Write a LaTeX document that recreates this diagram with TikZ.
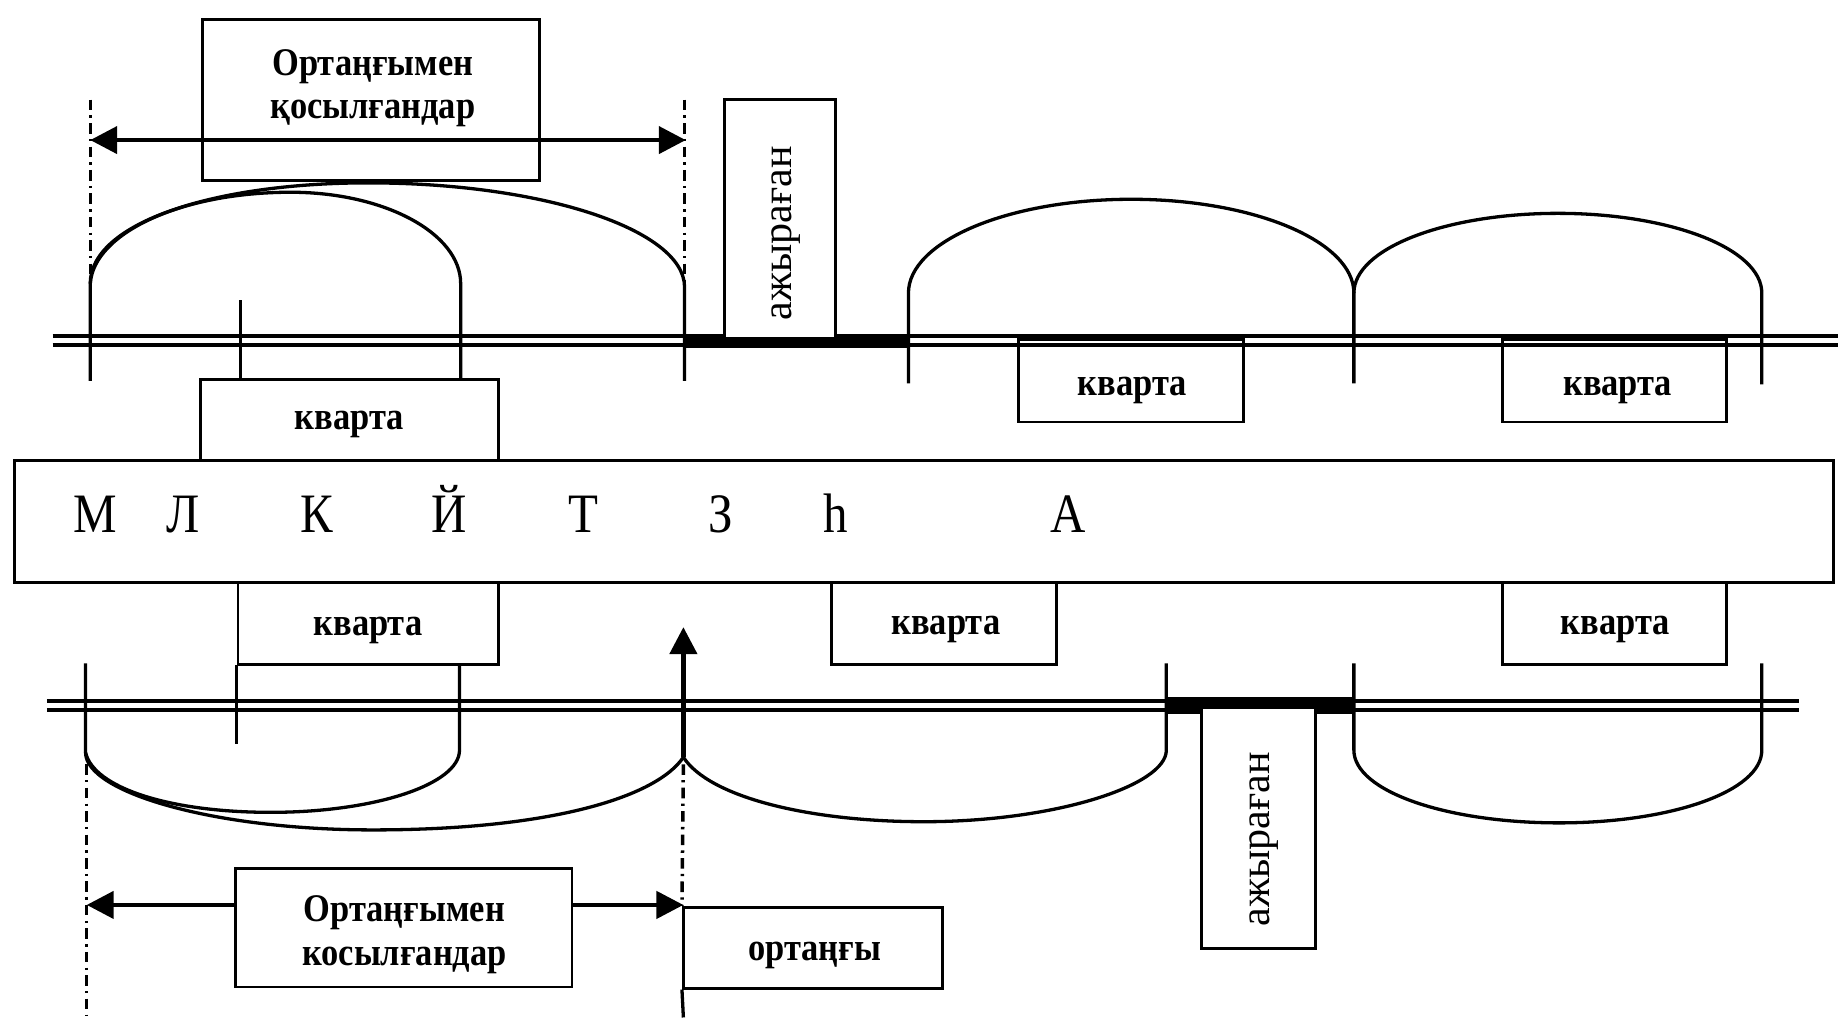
\documentclass[tikz,border=0pt]{standalone}
\usepackage{fontspec}
\setmainfont{Liberation Serif}[FakeStretch=0.88]
\newfontfamily\plainfont{Liberation Serif}
\usetikzlibrary{arrows.meta,fit}
\begin{document}
\begin{tikzpicture}[x=0.1mm,y=-0.1mm, line width=0.7pt,
  box/.style={draw, line width=0.7pt, inner sep=0pt},
  lbl/.style={font=\fontsize{9.5}{11}\selectfont\bfseries, inner sep=0pt},
  big/.style={font=\fontsize{13.5}{15}\selectfont, inner sep=0pt, anchor=base},
  vert/.style={font=\plainfont\fontsize{10.2}{12}\selectfont, rotate=90, inner sep=0pt},
  rail/.style={line width=1pt},
  arcline/.style={line width=0.8pt},
  dashdot/.style={line width=0.85pt, dash pattern=on 0.9mm off 0.45mm on 0.2mm off 0.45mm},
  tip/.style={-{Triangle[length=2.3mm,width=2.3mm]}, line width=1.1pt},
  dbltip/.style={{Triangle[length=2.3mm,width=2.3mm]}-{Triangle[length=2.3mm,width=2.3mm]}, line width=1.1pt},
]
\useasboundingbox (0,0) rectangle (1568,868);

% rails
\draw[rail] (45,287) -- (1568,287);
\draw[rail] (45,294) -- (1568,294);
\fill (583,285) rectangle (775,297);
\draw[rail] (40,598) -- (1535,598);
\draw[rail] (40,606) -- (1535,606);
\fill (995,595) rectangle (1155,609);

% boxes
\node[box, fit={(173,17)(460,154)}] (topjoin) {};
\node[box, fill=white, fit={(618,85)(713,289)}] (ajyr1) {};
\node[box, fit={(171,324)(425,393)}] (kv1) {};
\node[box, fit={(869,290)(1061,360)}] (kv2) {};
\node[box, fit={(1282,290)(1473,360)}] (kv3) {};
\node[box, fit={(12,393)(1564,497)}] (mid) {};
\node[box, fit={(203,497)(425,567)}] (kv4) {};
\node[box, fit={(709,497)(901,567)}] (kv5) {};
\node[box, fit={(1282,497)(1473,567)}] (kv6) {};
\node[box, fill=white, fit={(1025,604)(1122,809)}] (ajyr2) {};
\node[box, fit={(201,741)(488,842)}] (botjoin) {};
\node[box, fit={(583,774)(804,843)}] (ortangy) {};

% texts
\node[lbl] (t1a) at (318,57) {Ортаңғымен};
\node[lbl] (t1b) at (318,97) {қосылғандар};
\node[lbl] (b1a) at (345,779) {Ортаңғымен};
\node[lbl] (b1b) at (345,819) {косылғандар};
\node[lbl] (ko) at (695,815) {ортаңғы};
\node[lbl] (k1) at (298,362) {кварта};
\node[lbl] (k2) at (966,333) {кварта};
\node[lbl] (k3) at (1380,333) {кварта};
\node[lbl] (k4) at (314,538) {кварта};
\node[lbl] (k5) at (807,537) {кварта};
\node[lbl] (k6) at (1378,537) {кварта};
\node[vert] (a1) at (671,199) {ажыраған};
\node[vert] (a2) at (1078,716) {ажыраған};

\node[big] (l1) at (81,454) {М};
\node[big] (l2) at (156,454) {Л};
\node[big] (l3) at (270,454) {К};
\node[big] (l4) at (383,454) {Й};
\node[big] (l5) at (498,454) {Т};
\node[big] (l6) at (615,454) {З};
\node[big] (l7) at (713,454) {һ};
\node[big] (l8) at (911,454) {А};

% top arcs
\draw[arcline] (77,325) -- (77,242) .. controls (80,199) and (154,164) .. (248,164)
  .. controls (328,164) and (393,199) .. (393,242) -- (393,324);
\draw[arcline] (77,242) .. controls (77,190) and (183,156) .. (314,156)
  .. controls (463,156) and (584,196) .. (584,245) -- (584,325);
\draw[dashdot] (77,85) -- (77,242);
\draw[dashdot] (584,85) -- (584,245);
\draw[arcline] (205,256) -- (kv1.north -| 205,0);
\draw[arcline] (775,327) -- (775,250) .. controls (775,206) and (860,170) .. (965,170)
  .. controls (1070,170) and (1155,206) .. (1155,250) -- (1155,327);
\draw[arcline] (1155,250) .. controls (1155,212) and (1233,182) .. (1329,182)
  .. controls (1425,182) and (1503,212) .. (1503,250) -- (1503,328);

% top double arrow
\coordinate (tl) at (77,119.5);
\coordinate (tr) at (585,119.5);
\draw[dbltip] (tl) -- (tr);

% bottom arcs
\draw[arcline] (73,566) -- (73,642) .. controls (80,672) and (144,693) .. (231,693)
  .. controls (320,693) and (392,669) .. (392,640) -- (392,567);
\draw[arcline] (73,642) .. controls (73,676) and (183,708) .. (318,708)
  .. controls (470,708) and (560,680) .. (583,646);
\draw[arcline] (583,646) .. controls (605,680) and (690,701) .. (788,701)
  .. controls (900,701) and (995,670) .. (995,640) -- (995,566);
\draw[arcline] (1155,566) -- (1155,640) .. controls (1155,675) and (1234,702) .. (1330,702)
  .. controls (1426,702) and (1503,675) .. (1503,640) -- (1503,566);
\draw[arcline] (202,567) -- (202,635);
\draw[dashdot] (74,652) -- (74,866);
\draw[dashdot] (583,652) -- (ortangy.north west);
\draw[arcline] (ortangy.south west) -- (583,868);

% up arrow
\coordinate (cusp) at (583,646);
\coordinate (uptip) at (583,535);
\draw[tip] (cusp) -- (uptip);

% bottom arrows
\coordinate (bl) at (74,772);
\coordinate (br) at (583,772);
\draw[tip] (botjoin.west |- bl) -- (bl);
\draw[tip] (botjoin.east |- br) -- (br);
\end{tikzpicture}
\end{document}
